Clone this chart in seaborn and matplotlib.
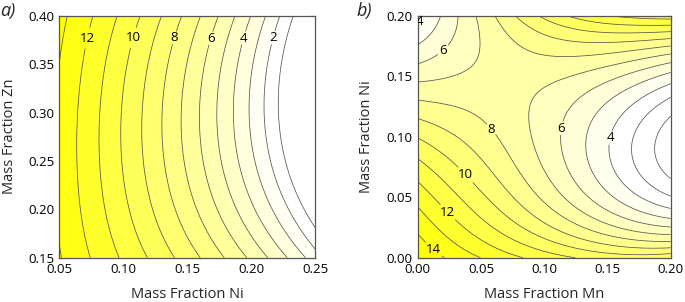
import numpy as np
import matplotlib
matplotlib.use("Agg")
import matplotlib.pyplot as plt
import seaborn as sns
from matplotlib.colors import Normalize
from matplotlib.ticker import MultipleLocator

#####################################
# values
#####################################
# panel a: where each contour level crosses three horizontal rows (Zn)
A_TOP_Y = 0.377
A_TOP_LEVELS = [13, 12, 11, 10, 9, 8, 7, 6, 5, 4, 3, 2]
A_TOP_NI = [0.0531, 0.0714, 0.0897, 0.1084, 0.1248, 0.1405, 0.1549, 0.1679, 0.1809, 0.1939, 0.2057, 0.2179]

A_MID_Y = 0.30
A_MID_LEVELS = [12, 11, 10, 9, 8, 7, 6, 5, 4, 3, 2]
A_MID_NI = [0.0636, 0.0818, 0.0988, 0.1157, 0.1306, 0.1452, 0.1593, 0.1726, 0.1861, 0.1986, 0.2103]

A_BOT_Y = 0.163
A_BOT_LEVELS = [13, 12, 11, 10, 9, 8, 7, 6, 5, 4, 3, 2]
A_BOT_NI = [0.0505, 0.0714, 0.093, 0.1139, 0.134, 0.1536, 0.1713, 0.1888, 0.2057, 0.2208, 0.2369, 0.245]

# panel b: points lying on the contour lines (Mn, Ni, level)
B_MN = [0.006, 0.2, 0.1626, 0.152, 0.2,                           # 4
        0.0, 0.019, 0.2, 0.1375, 0.131, 0.2,                       # 5
        0.0, 0.018, 0.031, 0.2, 0.1415, 0.1152, 0.1112, 0.2,       # 6
        0.0, 0.048, 0.2, 0.0967, 0.0835, 0.0862, 0.2,              # 7
        0.0585, 0.094, 0.2, 0.0, 0.0545, 0.081, 0.099, 0.2,        # 8
        0.075, 0.2, 0.0, 0.2,                                      # 9
        0.095, 0.2, 0.0, 0.036, 0.2,                               # 10
        0.12, 0.2, 0.0, 0.117,                                     # 11
        0.15, 0.2, 0.0, 0.025, 0.080,                              # 12
        0.0, 0.049,                                                # 13
        0.0, 0.013, 0.0216]                                        # 14
B_NI = [0.192, 0.142, 0.1124, 0.099, 0.039,
        0.180, 0.2, 0.150, 0.1179, 0.0986, 0.0306,
        0.161, 0.174, 0.2, 0.160, 0.1427, 0.1207, 0.1074, 0.0242,
        0.147, 0.2, 0.170, 0.1427, 0.115, 0.0876, 0.0193,
        0.2, 0.1675, 0.177, 0.1317, 0.1028, 0.0793, 0.0683, 0.0138,
        0.2, 0.183, 0.115, 0.0088,
        0.2, 0.1876, 0.097, 0.067, 0.0044,
        0.2, 0.1915, 0.081, 0.0,
        0.2, 0.1956, 0.062, 0.039, 0.0,
        0.042, 0.0,
        0.019, 0.008, 0.0]
B_LEVEL = [4] * 5 + [5] * 6 + [6] * 8 + [7] * 7 + [8] * 8 + [9] * 4 + [10] * 5 + [11] * 4 + [12] * 5 + [13] * 2 + [14] * 3


#####################################
# smooth response surface through the readings
#####################################
def poly_terms(u, v, max_u, max_v, max_total):
    return np.stack([u ** i * v ** j
                     for i in range(max_u + 1) for j in range(max_v + 1)
                     if i + j <= max_total], axis=-1)


def fit_surface(x, y, z, xlim, ylim, degs, n=300):
    x, y, z = np.asarray(x, float), np.asarray(y, float), np.asarray(z, float)
    u = (x - xlim[0]) / (xlim[1] - xlim[0])
    v = (y - ylim[0]) / (ylim[1] - ylim[0])
    coef, *_ = np.linalg.lstsq(poly_terms(u, v, *degs), z, rcond=None)
    gx = np.linspace(xlim[0], xlim[1], n)
    gy = np.linspace(ylim[0], ylim[1], n)
    GX, GY = np.meshgrid(gx, gy)
    GU = (GX - xlim[0]) / (xlim[1] - xlim[0])
    GV = (GY - ylim[0]) / (ylim[1] - ylim[0])
    return GX, GY, poly_terms(GU, GV, *degs) @ coef


def draw_panel(ax, GX, GY, GZ, vmin, vmax, label_pos):
    cmap = sns.blend_palette(["#FFFFFF", "#FFFF00"], as_cmap=True)
    ax.contourf(GX, GY, GZ, levels=np.arange(-2, 20), cmap=cmap,
                norm=Normalize(vmin=vmin, vmax=vmax))
    line_kw = dict(colors="#555555", linewidths=0.55)
    ax.contour(GX, GY, GZ, levels=np.arange(1, 17, 2), **line_kw)
    cs = ax.contour(GX, GY, GZ, levels=np.arange(2, 17, 2), **line_kw)
    texts = ax.clabel(cs, manual=label_pos, inline=True, colors="black",
                      fontsize=9.5, fmt="%d", inline_spacing=3)
    for t in texts:
        t.set_rotation(0)
    ax.tick_params(which="both", direction="in", top=True, right=True,
                   colors="#333333", labelcolor="black", labelsize=9.5)
    ax.tick_params(which="major", length=4, width=0.8)
    ax.tick_params(which="minor", length=2.5, width=0.7)
    for sp in ax.spines.values():
        sp.set_color("#555555")
        sp.set_linewidth(0.9)


sns.set_style("ticks")
plt.rcParams["font.family"] = ["Open Sans", "DejaVu Sans"]

fig = plt.figure(figsize=(6.85, 3.02), dpi=100)
ax_a = fig.add_axes([0.0866, 0.1467, 0.3733, 0.8013])
ax_b = fig.add_axes([0.6098, 0.1467, 0.3693, 0.8013])

# panel a
a_ni = A_TOP_NI + A_MID_NI + A_BOT_NI
a_zn = [A_TOP_Y] * len(A_TOP_NI) + [A_MID_Y] * len(A_MID_NI) + [A_BOT_Y] * len(A_BOT_NI)
a_lv = A_TOP_LEVELS + A_MID_LEVELS + A_BOT_LEVELS
GX, GY, GZ = fit_surface(a_ni, a_zn, a_lv, (0.05, 0.25), (0.15, 0.40), (3, 2, 3))
a_labels = [(ni, A_TOP_Y) for ni, lv in zip(A_TOP_NI, A_TOP_LEVELS) if lv % 2 == 0]
draw_panel(ax_a, GX, GY, GZ, 2.0, 13.5, a_labels)
ax_a.set_xlim(0.05, 0.25)
ax_a.set_ylim(0.15, 0.40)
ax_a.xaxis.set_major_locator(MultipleLocator(0.05))
ax_a.xaxis.set_minor_locator(MultipleLocator(0.025))
ax_a.yaxis.set_major_locator(MultipleLocator(0.05))
ax_a.yaxis.set_minor_locator(MultipleLocator(0.025))
ax_a.xaxis.set_major_formatter(lambda v, p: f"{v:.2f}")
ax_a.yaxis.set_major_formatter(lambda v, p: f"{v:.2f}")
ax_a.set_xlabel("Mass Fraction Ni", fontsize=10.5, labelpad=8)
ax_a.set_ylabel("Mass Fraction Zn", fontsize=10.5, labelpad=8)

# panel b
GX, GY, GZ = fit_surface(B_MN, B_NI, B_LEVEL, (0.0, 0.20), (0.0, 0.20), (4, 4, 4))
b_labels = [(0.0058, 0.192), (0.0184, 0.1736), (0.0545, 0.1028), (0.0361, 0.0669),
            (0.0248, 0.0386), (0.0132, 0.0077), (0.1112, 0.1074), (0.152, 0.099)]
draw_panel(ax_b, GX, GY, GZ, 3.8, 14.5, b_labels)
ax_b.set_xlim(0.0, 0.20)
ax_b.set_ylim(0.0, 0.20)
ax_b.xaxis.set_major_locator(MultipleLocator(0.05))
ax_b.xaxis.set_minor_locator(MultipleLocator(0.025))
ax_b.yaxis.set_major_locator(MultipleLocator(0.05))
ax_b.yaxis.set_minor_locator(MultipleLocator(0.025))
ax_b.xaxis.set_major_formatter(lambda v, p: f"{v:.2f}")
ax_b.yaxis.set_major_formatter(lambda v, p: f"{v:.2f}")
ax_b.set_xlabel("Mass Fraction Mn", fontsize=10.5, labelpad=8)
ax_b.set_ylabel("Mass Fraction Ni", fontsize=10.5, labelpad=9)

fig.text(0.0, 0.965, "a)", fontsize=13, style="italic", va="center", ha="left")
fig.text(0.521, 0.965, "b)", fontsize=13, style="italic", va="center", ha="left")

fig.savefig("out.png", dpi=100)
